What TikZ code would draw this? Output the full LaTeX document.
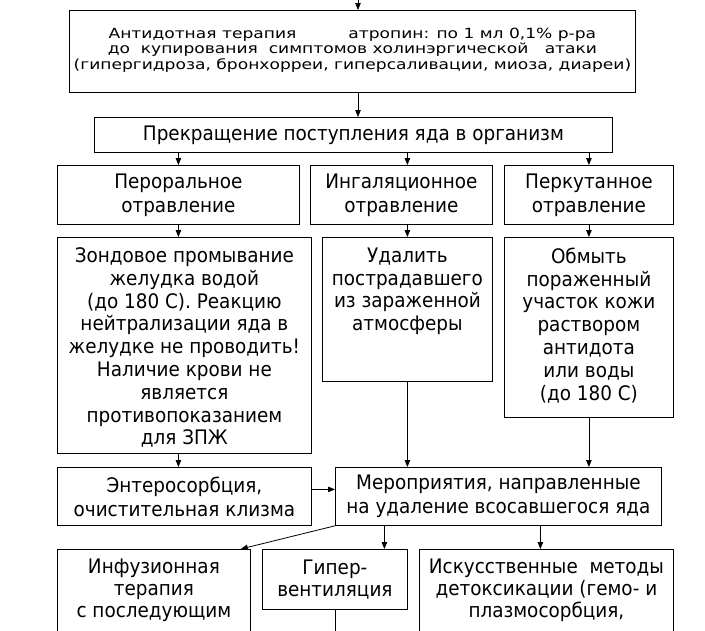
\documentclass[tikz,border=0pt]{standalone}
\usepackage{fontspec}
\setmainfont{DejaVu Sans}[FakeStretch=0.92]
\newfontfamily\topfont{DejaVu Sans}[FakeStretch=1.22]
\usepackage{tikz}
\usetikzlibrary{arrows.meta}
\usetikzlibrary{positioning}
\tikzstyle{blk} = [rectangle, draw=black, line width=0.8pt, inner sep=0pt, anchor=north west]
\tikzstyle{txt} = [align=center, inner sep=0pt, font=\fontsize{20}{22.8}\selectfont]
\tikzstyle{arrow} = [line width=0.8pt, -{Triangle[length=7pt, width=5.5pt]}]

\begin{document}
\begin{tikzpicture}[x=1pt, y=-1pt]
  \useasboundingbox (0,0) rectangle (705,630);

  % antidote and first step
  \node (antid) [blk, minimum width=566pt, minimum height=82pt, label={[txt, yshift=1.5pt,
    font=\topfont\fontsize{14}{15.5}\selectfont]center:Антидотная терапия\hspace{52pt}атропин: по 1 мл 0,1\% р-ра\\
    до\ \ купирования\ \ симптомов холинэргической\ \ \ атаки\\
    (гипергидроза, бронхорреи, гиперсаливации, миоза, диареи)}] at (69,10) {};
  \coordinate (in0) at (358,-2);
  \node (stop) [blk, minimum width=518pt, minimum height=35pt, label={[txt]center:Прекращение
    поступления яда в организм}] at (94,117) {};

  % kinds of poisoning
  \node (oral) [blk, minimum width=242pt, minimum height=59pt, label={[txt,
    font=\fontsize{20}{24}\selectfont]center:Пероральное\\отравление}] at (57,165) {};
  \node (inhal) [blk, minimum width=182pt, minimum height=59pt, label={[txt,
    font=\fontsize{20}{24}\selectfont]center:Ингаляционное\\отравление}] at (310,165) {};
  \node (cutan) [blk, minimum width=169pt, minimum height=59pt, label={[txt,
    font=\fontsize{20}{24}\selectfont]center:Перкутанное\\отравление}] at (504,165) {};

  % first aid
  \node (wash) [blk, minimum width=254pt, minimum height=216pt, label={[txt, anchor=north,
    yshift=-10.5pt]north:Зондовое промывание\\желудка водой\\(до 180 С). Реакцию\\нейтрализации яда в\\желудке
    не проводить!\\Наличие крови не\\является\\противопоказанием\\для ЗПЖ}] at (57,237) {};
  \node (remove) [blk, minimum width=170pt, minimum height=144pt, label={[txt, anchor=north,
    yshift=-10.5pt]north:Удалить\\пострадавшего\\из зараженной\\атмосферы}] at (322,237) {};
  \node (rinse) [blk, minimum width=169pt, minimum height=180pt, label={[txt, anchor=north,
    yshift=-10.5pt]north:Обмыть\\пораженный\\участок кожи\\раствором\\антидота\\или воды\\(до 180 С)}] at (504,237) {};

  % removal
  \node (entero) [blk, minimum width=254pt, minimum height=58pt, label={[txt,
    font=\fontsize{20}{24}\selectfont]center:Энтеросорбция,\\очистительная клизма}] at (57,467) {};
  \node (measures) [blk, minimum width=326pt, minimum height=58pt, label={[txt,
    font=\fontsize{20}{24}\selectfont]center:Мероприятия, направленные\\на удаление всосавшегося яда}] at (335,467) {};

  % detoxication
  \node (infus) [blk, minimum width=193pt, minimum height=120pt, label={[txt, anchor=north,
    yshift=-9.5pt, font=\fontsize{20}{22}\selectfont]north:Инфузионная\\терапия\\с последующим}] at (57,549) {};
  \node (hyper) [blk, minimum width=145pt, minimum height=60pt, label={[txt,
    font=\fontsize{20}{22}\selectfont]center:Гипер-\\вентиляция}] at (262,549) {};
  \node (artif) [blk, minimum width=254pt, minimum height=120pt, label={[txt, anchor=north,
    yshift=-9.5pt, font=\fontsize{20}{22}\selectfont]north:Искусственные\ \ методы\\детоксикации (гемо- и\\плазмосорбция,}] at (419,549) {};
  \coordinate (out0) at (335,640);
  \coordinate (hypin) at ([xshift=49.5pt]hyper.north);
  \coordinate (artin) at ([xshift=-6pt]artif.north);

  \draw[arrow] (in0) -- (in0 |- antid.north);
  \draw[arrow] (antid.south -| in0) -- (stop.north -| in0);
  \draw[arrow] (stop.south -| oral) -- (oral.north);
  \draw[arrow] (stop.south -| remove) -- (inhal.north -| remove);
  \draw[arrow] (stop.south -| cutan) -- (cutan.north);

  \draw[arrow] (oral.south) -- (oral.south |- wash.north);
  \draw[arrow] (inhal.south -| remove) -- (remove.north);
  \draw[arrow] (cutan.south) -- (cutan.south |- rinse.north);

  \draw[arrow] (wash.south -| oral) -- (entero.north -| oral);
  \draw[arrow] (remove.south) -- (remove.south |- measures.north);
  \draw[arrow] (rinse.south -| cutan) -- (measures.north -| cutan);
  \draw[arrow] ([yshift=7pt]entero.east) -- ([yshift=7pt]entero.east -| measures.west);

  \draw[arrow] (measures.south west) -- ([xshift=-10pt]infus.north east);
  \draw[arrow] (measures.south -| hypin) -- (hypin);
  \draw[arrow] (measures.south -| artin) -- (artin);
  \draw[line width=0.8pt] (hyper.south) -- (hyper.south |- out0);
\end{tikzpicture}
\end{document}
